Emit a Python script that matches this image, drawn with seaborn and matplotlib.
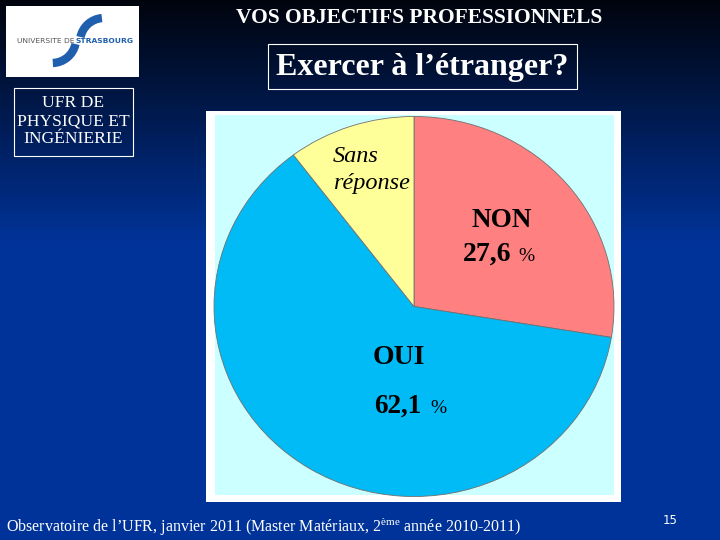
import matplotlib.pyplot as plt
import numpy as np
import seaborn as sns
from matplotlib.patches import Rectangle, Arc

# données du camembert
categories = ["NON", "OUI", "Sans réponse"]
pourcentages = [27.6, 62.1, 10.3]
couleurs = ["#FF8080", "#00BBF5", "#FFFF99"]

sns.set_style("white")
plt.rcParams["font.family"] = ["Liberation Serif", "DejaVu Serif"]
plt.rcParams["text.color"] = "black"
plt.rcParams["mathtext.fontset"] = "custom"
plt.rcParams["mathtext.rm"] = "Liberation Serif"

W, H = 720, 540
fig = plt.figure(figsize=(W / 100, H / 100), dpi=100)

# fond dégradé (noir en haut -> bleu)
bg = fig.add_axes([0, 0, 1, 1])
bg.set_axis_off()
t = np.clip(np.linspace(0, 1, H) / 0.45, 0, 1)[:, None]
haut = np.array([0.0, 0.015, 0.05])
bas = np.array([0.0, 0.20, 0.60])
grad = haut + (bas - haut) * t[..., None]
grad = np.repeat(grad, 2, axis=1)
bg.imshow(grad, aspect="auto", extent=[0, W, H, 0])
bg.set_xlim(0, W)
bg.set_ylim(H, 0)

# logo
bg.add_patch(Rectangle((6, 6), 133, 71, facecolor="white", edgecolor="none"))
bg.add_patch(Arc((104, 42), 48, 48, theta1=192, theta2=265, color="#1F5FAD", lw=6))
bg.add_patch(Arc((52, 39), 48, 48, theta1=12, theta2=88, color="#1F5FAD", lw=6))
bg.text(46, 41, "UNIVERSITE DE", fontsize=5.4, family="DejaVu Sans", color="#555555",
        ha="center", va="center")
bg.text(104, 41, "STRASBOURG", fontsize=5.4, family="DejaVu Sans", color="#1F5FAD",
        ha="center", va="center", weight="bold")

# encadré UFR
bg.add_patch(Rectangle((14, 88), 119, 68, facecolor="none", edgecolor="white", lw=0.8))
bg.text(73.5, 121, "UFR DE\nPHYSIQUE ET\nINGÉNIERIE", color="white", fontsize=12.6,
        ha="center", va="center", linespacing=1.2)

# titres
bg.text(419, 18, "VOS OBJECTIFS PROFESSIONNELS", color="white", fontsize=15.5, weight="bold",
        ha="center", va="center")
bg.add_patch(Rectangle((268, 44), 309, 45, facecolor="none", edgecolor="white", lw=0.8))
bg.text(422, 67, "Exercer à l’étranger?", color="white", fontsize=23, weight="bold",
        ha="center", va="center")

# panneau du graphique
bg.add_patch(Rectangle((206, 111), 415, 391, facecolor="white", edgecolor="none"))
bg.add_patch(Rectangle((215, 115), 399, 380, facecolor="#CCFFFF", edgecolor="none"))

# pied de page
bg.text(6, 527, "Observatoire de l’UFR, janvier 2011 (Master Matériaux, 2$^{\\rm ème}$ année 2010-2011)",
        color="white", fontsize=11.5, ha="left", va="center")
bg.text(670, 520, "15", color="white", fontsize=8.5, family="DejaVu Sans",
        ha="center", va="center")

# camembert (ellipse légèrement aplatie comme l'original)
cx, cy, rx, ry = 414, 306.5, 200, 190
ax = fig.add_axes([(cx - rx) / W, 1 - (cy + ry) / H, 2 * rx / W, 2 * ry / H])
ax.pie(pourcentages, colors=couleurs, startangle=90, counterclock=False,
       radius=1, wedgeprops=dict(edgecolor="#707070", linewidth=0.6))
ax.set_aspect("auto")
ax.set_xlim(-1, 1)
ax.set_ylim(-1, 1)
ax.set_axis_off()

# étiquettes, dans un calque transparent au-dessus (en pixels)
top = fig.add_axes([0, 0, 1, 1])
top.set_axis_off()
top.patch.set_alpha(0)
top.set_xlim(0, W)
top.set_ylim(H, 0)

def fmt(v):
    return f"{v:.1f}".replace(".", ",")

top.text(333, 162, "Sans", style="italic", fontsize=17.5, ha="left", va="baseline")
top.text(333, 189, "réponse", style="italic", fontsize=17.5, ha="left", va="baseline")
top.text(502, 227, categories[0], fontsize=19.5, weight="bold", ha="center", va="baseline")
top.text(463, 261, fmt(pourcentages[0]), fontsize=20, weight="bold", ha="left", va="baseline")
top.text(518, 261, "%", fontsize=14, ha="left", va="baseline")
top.text(373, 364, categories[1], fontsize=20, weight="bold", ha="left", va="baseline")
top.text(374, 413, fmt(pourcentages[1]), fontsize=19.5, weight="bold", ha="left", va="baseline")
top.text(430, 413, "%", fontsize=14, ha="left", va="baseline")

fig.savefig("out.png", dpi=100)
